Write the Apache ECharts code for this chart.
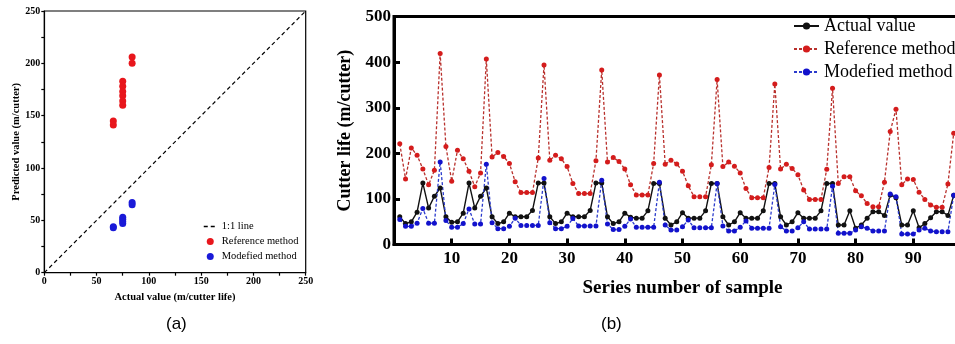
<!DOCTYPE html>
<html>
<head>
<meta charset="utf-8">
<script src="https://cdn.jsdelivr.net/npm/echarts@6.0.0/dist/echarts.min.js"></script>
<style>
  html, body { margin: 0; padding: 0; background: #fff; }
  #chart { width: 955px; height: 344px; }
</style>
</head>
<body>
<div id="chart"></div>
<script>
// (a) scatter: actual vs predicted
const refActual = [66, 66, 75, 75, 75, 75, 75, 75, 84, 84]
const refPred = [145, 141, 183, 178, 173, 169, 164, 160, 206, 200]
const modActual = [66, 66, 75, 75, 75, 75, 84, 84]
const modPred = [44, 43, 53, 51, 49, 47, 67, 65]
const oneToOne = [0, 250]

// (b) series by sample number (1..97 visible)
const actualValue = [
  61, 46, 50, 71, 135, 80, 106, 124, 61, 49,
  50, 69, 135, 80, 106, 124, 61, 46, 50, 69,
  61, 61, 61, 75, 135, 135, 61, 46, 50, 69,
  61, 61, 61, 75, 135, 135, 61, 46, 50, 69,
  60, 58, 58, 74, 134, 134, 58, 43, 50, 70,
  58, 58, 58, 74, 134, 134, 61, 43, 50, 70,
  58, 58, 58, 74, 134, 134, 61, 43, 50, 70,
  58, 58, 58, 74, 134, 134, 43, 43, 74, 36,
  43, 58, 72, 72, 64, 109, 103, 43, 43, 74,
  37, 46, 59, 72, 72, 64, 108
]
const referenceMethod = [
  221, 144, 212, 196, 166, 131, 163, 419, 215, 139,
  207, 188, 161, 127, 157, 407, 192, 202, 193, 178,
  138, 114, 114, 114, 190, 394, 185, 196, 188, 171,
  134, 112, 112, 112, 184, 383, 181, 191, 182, 166,
  131, 109, 109, 109, 178, 372, 176, 185, 177, 161,
  129, 105, 105, 105, 175, 362, 171, 181, 172, 157,
  123, 103, 103, 103, 169, 352, 166, 176, 167, 153,
  120, 99, 99, 99, 165, 343, 134, 149, 149, 118,
  107, 90, 83, 83, 137, 248, 297, 131, 144, 143,
  115, 99, 87, 82, 82, 133, 244
]
const modefiedMethod = [
  55, 40, 40, 47, 79, 47, 47, 181, 53, 38,
  38, 46, 78, 45, 45, 176, 48, 35, 35, 40,
  58, 42, 42, 42, 42, 145, 48, 35, 35, 40,
  57, 41, 41, 41, 41, 141, 45, 33, 33, 40,
  56, 38, 38, 38, 38, 137, 43, 32, 32, 39,
  54, 37, 37, 37, 37, 134, 41, 30, 30, 38,
  52, 36, 36, 36, 36, 132, 39, 30, 30, 37,
  50, 34, 34, 34, 34, 128, 25, 25, 25, 32,
  39, 36, 30, 30, 30, 111, 105, 23, 23, 23,
  32, 36, 30, 28, 28, 28, 108
]

const serif = "'Liberation Serif', 'Times New Roman', serif"
const toPairs = (xs, ys) => xs.map((x, i) => [x, ys[i]])
const bySample = arr => arr.map((v, i) => [i + 1, v])

const chart = echarts.init(document.getElementById('chart'))

const smallAxis = {
  type: 'value',
  min: 0,
  max: 250,
  interval: 25,
  axisLine: { show: true, lineStyle: { color: '#000', width: 1.2 } },
  axisTick: { show: true, inside: false, length: 3, lineStyle: { color: '#000', width: 1.2 } },
  splitLine: { show: false },
  axisLabel: {
    color: '#000',
    fontFamily: serif,
    fontWeight: 'bold',
    fontSize: 10,
    margin: 4,
    formatter: v => (v % 50 === 0 ? String(v) : '')
  },
  nameLocation: 'middle',
  nameTextStyle: { color: '#000', fontFamily: serif, fontWeight: 'bold', fontSize: 10.5 }
}

const option = {
  animation: false,
  backgroundColor: '#fff',
  grid: [
    {
      left: 44.3, top: 11, width: 261.4, height: 261.7,
      show: true, borderColor: '#000', borderWidth: 1.2,
      outerBoundsMode: 'none'
    },
    {
      left: 394, top: 16.6, width: 577, height: 228,
      show: true, borderColor: '#000', borderWidth: 3,
      outerBoundsMode: 'none'
    }
  ],
  xAxis: [
    Object.assign({}, smallAxis, { gridIndex: 0, name: 'Actual value (m/cutter life)', nameGap: 19 }),
    {
      gridIndex: 1,
      type: 'value',
      min: 0,
      max: 100,
      interval: 10,
      axisLine: { show: true, lineStyle: { color: '#000', width: 3 } },
      axisTick: { show: true, inside: true, length: 6, lineStyle: { color: '#000', width: 3 } },
      splitLine: { show: false },
      axisLabel: {
        color: '#000', fontFamily: serif, fontWeight: 'bold', fontSize: 17, margin: 6,
        formatter: v => (v === 0 || v === 100 ? '' : String(v))
      },
      name: 'Series number of sample',
      nameLocation: 'middle',
      nameGap: 34,
      nameTextStyle: { color: '#000', fontFamily: serif, fontWeight: 'bold', fontSize: 19 }
    }
  ],
  yAxis: [
    Object.assign({}, smallAxis, { gridIndex: 0, name: 'Predicted value (m/cutter)', nameGap: 23 }),
    {
      gridIndex: 1,
      type: 'value',
      min: 0,
      max: 500,
      interval: 100,
      axisLine: { show: true, lineStyle: { color: '#000', width: 3 } },
      axisTick: { show: true, inside: true, length: 6, lineStyle: { color: '#000', width: 3 } },
      splitLine: { show: false },
      axisLabel: { color: '#000', fontFamily: serif, fontWeight: 'bold', fontSize: 17, margin: 3 },
      name: 'Cutter life (m/cutter)',
      nameLocation: 'middle',
      nameGap: 38,
      nameTextStyle: { color: '#000', fontFamily: serif, fontWeight: 'bold', fontSize: 18 }
    }
  ],
  legend: [
    {
      left: 198, top: 216,
      orient: 'vertical',
      itemWidth: 13, itemHeight: 7, itemGap: 4,
      textStyle: { color: '#000', fontFamily: serif, fontSize: 10.5 },
      formatter: name => name.replace(' (a)', ''),
      data: [
        { name: '1:1 line', itemStyle: { opacity: 0 }, lineStyle: { type: [4, 3], width: 1.5 } },
        { name: 'Reference method (a)', icon: 'circle' },
        { name: 'Modefied method (a)', icon: 'circle' }
      ]
    },
    {
      left: 788, top: 12,
      orient: 'vertical',
      itemWidth: 25, itemHeight: 9, itemGap: 5,
      textStyle: { color: '#000', fontFamily: serif, fontSize: 18 },
      data: ['Actual value', 'Reference method', 'Modefied method']
    }
  ],
  graphic: [
    { type: 'text', left: 166, top: 316, style: { text: '(a)', fill: '#000', font: "17px 'Liberation Sans', Arial, sans-serif" } },
    { type: 'text', left: 601, top: 316, style: { text: '(b)', fill: '#000', font: "17px 'Liberation Sans', Arial, sans-serif" } }
  ],
  series: [
    {
      name: '1:1 line',
      type: 'line',
      xAxisIndex: 0, yAxisIndex: 0,
      symbol: 'none',
      lineStyle: { color: '#000', width: 1.2, type: [4, 3] },
      itemStyle: { color: '#000' },
      data: toPairs(oneToOne, oneToOne)
    },
    {
      name: 'Reference method (a)',
      type: 'scatter',
      xAxisIndex: 0, yAxisIndex: 0,
      symbolSize: 7,
      itemStyle: { color: '#e8161c', opacity: 1 },
      data: toPairs(refActual, refPred)
    },
    {
      name: 'Modefied method (a)',
      type: 'scatter',
      xAxisIndex: 0, yAxisIndex: 0,
      symbolSize: 7,
      itemStyle: { color: '#1a1ad8', opacity: 1 },
      data: toPairs(modActual, modPred)
    },
    {
      name: 'Actual value',
      type: 'line',
      xAxisIndex: 1, yAxisIndex: 1,
      symbol: 'circle', symbolSize: 5,
      lineStyle: { color: '#111', width: 1.4 },
      itemStyle: { color: '#111' },
      data: bySample(actualValue)
    },
    {
      name: 'Reference method',
      type: 'line',
      xAxisIndex: 1, yAxisIndex: 1,
      symbol: 'circle', symbolSize: 5,
      lineStyle: { color: '#b8302c', width: 1.3, type: [3, 2] },
      itemStyle: { color: '#d41c1c' },
      data: bySample(referenceMethod)
    },
    {
      name: 'Modefied method',
      type: 'line',
      xAxisIndex: 1, yAxisIndex: 1,
      symbol: 'circle', symbolSize: 5,
      lineStyle: { color: '#2a3acc', width: 1.3, type: [3, 2] },
      itemStyle: { color: '#1212cc' },
      data: bySample(modefiedMethod)
    }
  ]
}

chart.setOption(option)
</script>
</body>
</html>
